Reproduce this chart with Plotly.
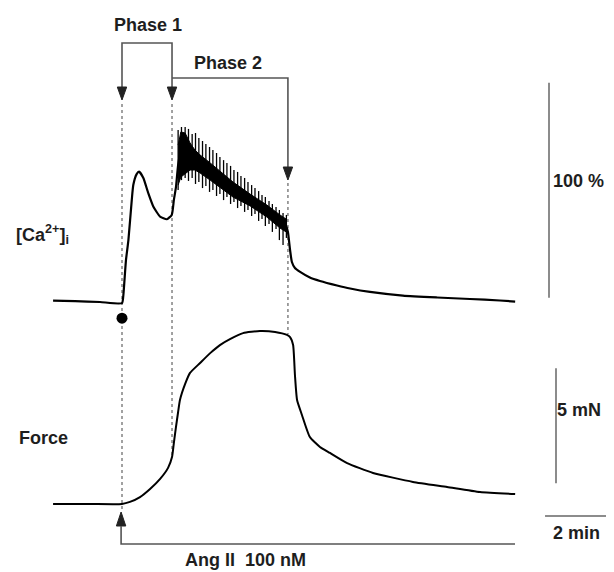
import plotly.graph_objects as go

# ---------------- data (time in min, Ang II added at t = 0) ----------------
ca_time = [-2.26, -1.54, -0.72, 0.0, 0.04, 0.13, 0.21, 0.32, 0.37, 0.48, 0.56, 0.70,
           0.86, 1.03, 1.25, 1.47, 1.63, 1.70, 1.77, 1.84, 1.93, 2.07, 2.23, 2.39,
           2.56, 2.89, 3.21, 3.64, 4.20, 4.75, 5.18, 5.38, 5.44, 5.51, 5.57, 5.67,
           5.84, 6.16, 6.49, 7.05, 7.48, 8.13, 9.21, 10.33, 11.41, 12.39, 12.89]
ca_value = [0.6, 0.4, 0.0, -0.5, 2.5, 19.5, 28.8, 47.4, 54.4, 59.5, 60.6, 57.7,
            50.7, 44.3, 39.7, 38.5, 40.5, 47.4, 53.6, 63.7, 69.8, 69.8, 67.9, 66.0,
            64.2, 60.9, 57.2, 52.6, 47.4, 42.3, 37.7, 35.3, 32.6, 24.2, 18.6, 15.8,
            14.0, 11.4, 9.8, 7.7, 6.3, 4.7, 3.0, 2.1, 1.4, 0.7, 0.2]

# dense core of the oscillating phase-2 signal
core_time = [1.84, 1.93, 2.07, 2.23, 2.39, 2.56, 2.89, 3.21, 3.64, 4.20, 4.75, 5.18, 5.38]
core_top = [73.0, 79.1, 78.6, 74.0, 70.7, 68.4, 64.7, 60.9, 55.8, 50.2, 45.1, 40.5, 38.6]
core_bottom = [54.4, 58.1, 59.5, 61.4, 61.4, 60.0, 56.7, 53.5, 48.8, 44.7, 39.5, 34.4, 32.6]

# individual Ca2+ oscillation spikes (peak / trough)
spike_time = [1.84, 1.95, 2.07, 2.18, 2.30, 2.41, 2.52, 2.64, 2.75, 2.87, 2.98, 3.10,
              3.21, 3.33, 3.44, 3.56, 3.67, 3.79, 3.90, 4.02, 4.13, 4.25, 4.36, 4.48,
              4.59, 4.70, 4.82, 4.93, 5.05, 5.16, 5.28, 5.39]
spike_peak = [80.0, 81.4, 81.4, 80.5, 78.1, 78.6, 76.3, 74.9, 73.5, 72.1, 70.7, 69.3,
              67.4, 66.0, 64.7, 63.3, 61.4, 60.5, 58.6, 57.7, 55.8, 54.4, 53.0, 51.6,
              49.8, 48.8, 47.0, 45.6, 44.2, 42.8, 41.4, 40.5]
spike_trough = [52.1, 56.7, 57.7, 56.3, 57.7, 54.9, 55.8, 53.0, 54.0, 51.2, 52.1, 49.3,
                50.2, 47.4, 48.8, 45.6, 46.5, 43.7, 44.7, 41.9, 42.8, 40.0, 40.9, 37.7,
                38.6, 35.3, 36.3, 32.6, 34.0, 28.8, 26.5, 29.8]

force_time = [-2.26, -1.05, 0.0, 0.26, 0.59, 0.92, 1.25, 1.51, 1.64, 1.70, 1.77, 1.84,
              1.90, 2.07, 2.23, 2.56, 2.90, 3.21, 3.54, 3.97, 4.52, 5.02, 5.41, 5.51,
              5.61, 5.67, 5.74, 5.90, 6.16, 6.49, 6.82, 7.38, 8.23, 9.54, 10.66, 11.74, 12.89]
force_value = [0.0, 0.0, 0.0, 0.09, 0.30, 0.65, 1.09, 1.57, 2.04, 2.65, 3.35, 4.00,
               4.52, 5.22, 5.70, 6.13, 6.57, 6.91, 7.17, 7.43, 7.52, 7.48, 7.35, 7.26,
               6.91, 5.61, 4.52, 3.87, 2.91, 2.48, 2.22, 1.78, 1.35, 0.96, 0.74, 0.52, 0.43]

event_times = [0.0, 1.64, 5.44]          # Ang II, start of phase 2, end of phase 2
stim_marker = [-7.5]                     # Ca level of the stimulation dot
ca_scale = [2.0, 102.0]                  # 100 %
force_scale = [0.9, 5.9]                 # 5 mN
time_scale = [13.87, 15.87]              # 2 min
time_scale_level = [-0.52]               # in mN units (below force baseline)

# ---------------- layout helpers ----------------
W, H = 614, 572
X_RANGE = [-4.0, 16.131]
CA_RANGE = [-125.58, 140.47]
F_RANGE = [-2.957, 21.913]


def yp(px):
    return 1 - px / H


def xp(px):
    return X_RANGE[0] + px / W * (X_RANGE[1] - X_RANGE[0])


TXT = dict(family="Liberation Sans, Arial, sans-serif", size=18, color="#1e1e1e")
GREY = "#555555"
DOT = "#8a8a8a"

fig = go.Figure()

# Ca trace
fig.add_trace(go.Scatter(x=ca_time, y=ca_value, mode="lines",
                         line=dict(color="black", width=2.2, shape="spline", smoothing=0.5),
                         yaxis="y", hoverinfo="skip"))
fig.add_trace(go.Scatter(x=core_time + core_time[::-1], y=core_top + core_bottom[::-1],
                         mode="lines", fill="toself", fillcolor="black",
                         line=dict(color="black", width=1), yaxis="y", hoverinfo="skip"))
sx, sy = [], []
for t, p, q in zip(spike_time, spike_peak, spike_trough):
    sx += [t, t, None]
    sy += [p, q, None]
fig.add_trace(go.Scatter(x=sx, y=sy, mode="lines", line=dict(color="black", width=1.3),
                         yaxis="y", hoverinfo="skip"))
# stimulation dot
fig.add_trace(go.Scatter(x=[event_times[0]], y=stim_marker, mode="markers",
                         marker=dict(color="black", size=11), yaxis="y", hoverinfo="skip"))
# Ca scale bar
fig.add_trace(go.Scatter(x=[xp(549)] * 2, y=ca_scale, mode="lines",
                         line=dict(color="#666", width=1.5), yaxis="y", hoverinfo="skip"))

# force trace
fig.add_trace(go.Scatter(x=force_time, y=force_value, mode="lines",
                         line=dict(color="black", width=2, shape="spline", smoothing=0.5),
                         yaxis="y2", hoverinfo="skip"))
fig.add_trace(go.Scatter(x=[xp(556)] * 2, y=force_scale, mode="lines",
                         line=dict(color="#666", width=1.5), yaxis="y2", hoverinfo="skip"))
fig.add_trace(go.Scatter(x=time_scale, y=time_scale_level * 2, mode="lines",
                         line=dict(color="#666", width=1.5), yaxis="y2", hoverinfo="skip"))

shapes = []
e0, e1, e2 = event_times
# dotted event lines (behind the traces)
for t, top, bot in [(e0, 104, 510), (e1, 104, 455), (e2, 183, 334)]:
    shapes.append(dict(type="line", xref="x", yref="paper", x0=t, x1=t, y0=yp(top), y1=yp(bot),
                       layer="below", line=dict(color=DOT, width=1.6, dash="dot")))
# phase brackets
shapes.append(dict(type="path", xref="x", yref="paper",
                   path=f"M {e0} {yp(89)} L {e0} {yp(43)} L {e1} {yp(43)} L {e1} {yp(89)}",
                   line=dict(color=GREY, width=1.6)))
shapes.append(dict(type="path", xref="x", yref="paper",
                   path=f"M {e1} {yp(78)} L {e2} {yp(78)} L {e2} {yp(168)}",
                   line=dict(color=GREY, width=1.6)))
hw = 4.7 / W * (X_RANGE[1] - X_RANGE[0])


def head(t, tip, base):
    return dict(type="path", xref="x", yref="paper",
                path=f"M {t - hw} {yp(base)} L {t + hw} {yp(base)} L {t} {yp(tip)} Z",
                fillcolor="#222", line=dict(color="#222", width=1))


shapes += [head(e0, 100, 87), head(e1, 100, 87), head(e2, 180, 167), head(e0 - 0.03, 512, 526)]
# Ang II application line
shapes.append(dict(type="path", xref="x", yref="paper",
                   path=f"M {e0 - 0.03} {yp(526)} L {e0 - 0.03} {yp(544)} L {xp(515)} {yp(544)}",
                   line=dict(color=GREY, width=1.6)))

ann = []


def label(text, x, y, anchor="center"):
    ann.append(dict(text=text, x=x, y=y, xref="paper", yref="paper", showarrow=False,
                    xanchor=anchor, yanchor="middle", font=TXT))


label("Phase 1", 148 / W, yp(25))
label("Phase 2", 228 / W, yp(63))
label("[Ca<sup>2+</sup>]<sub>i</sub>", 14 / W, yp(234), "left")
label("Force", 17 / W, yp(438), "left")
label("100 %", 578 / W, yp(181))
label("5 mN", 579 / W, yp(410))
label("2 min", 576 / W, yp(533))
label("Ang II  100 nM", 245 / W, yp(560))

fig.update_layout(
    width=W, height=H, margin=dict(l=0, r=0, t=0, b=0),
    paper_bgcolor="white", plot_bgcolor="white", showlegend=False,
    xaxis=dict(range=X_RANGE, visible=False, fixedrange=True),
    yaxis=dict(range=CA_RANGE, visible=False, domain=[0, 1], fixedrange=True),
    yaxis2=dict(range=F_RANGE, visible=False, overlaying="y", fixedrange=True),
    shapes=shapes, annotations=ann, font=TXT, hovermode=False,
)
for a in fig.layout.annotations:
    a.font.weight = "bold"

fig.write_html("out.html", config={"displayModeBar": False},
               post_script="document.body.style.margin='0px';document.body.style.overflow='hidden';")
